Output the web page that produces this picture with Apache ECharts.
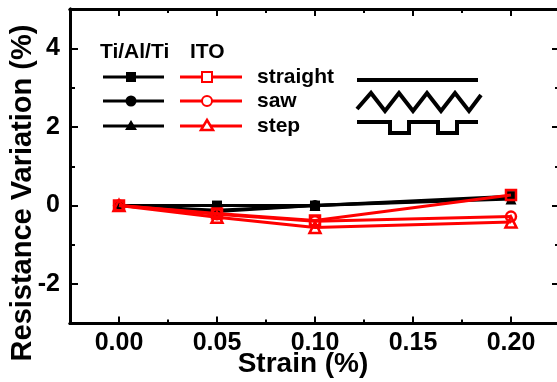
<!DOCTYPE html>
<html>
<head>
<meta charset="utf-8">
<script src="https://cdn.jsdelivr.net/npm/echarts@6/dist/echarts.min.js"></script>
<style>html,body{margin:0;padding:0;background:#fff;overflow:hidden}#c{width:562px;height:382px}</style>
</head>
<body>
<div id="c"></div>
<script>
// ---- data ----
var strain = [0, 0.05, 0.10, 0.20];
var tiStraight = [0, 0.0, 0.0, 0.24];
var tiSaw = [0, -0.12, 0.0, 0.20];
var tiStep = [0, -0.15, 0.0, 0.17];
var itoStraight = [0, -0.20, -0.38, 0.27];
var itoSaw = [0, -0.22, -0.40, -0.28];
var itoStep = [0, -0.30, -0.56, -0.42];
var xMajor = [0, 0.05, 0.10, 0.15, 0.20];
var xMinor = [0.025, 0.075, 0.125, 0.175];
var yMajor = [-2, 0, 2, 4];
var yMinor = [-3, -1, 1, 3];
var legendHeaders = ['Ti/Al/Ti', 'ITO'];
var shapeNames = ['straight', 'saw', 'step'];

var FONT = '"Liberation Sans", Arial, sans-serif';
function pairs(ys) { return strain.map(function (x, i) { return [x, ys[i]]; }); }

function xAx(pos, vals, len, labels) {
  return {
    type: 'value', position: pos, min: -0.025, max: 0.225, interval: 0.025,
    axisLine: { show: true, onZero: false, lineStyle: { color: '#000', width: 3 } },
    axisTick: { show: true, inside: true, length: len, lineStyle: { color: '#000', width: 2 }, customValues: vals },
    axisLabel: { show: labels, customValues: vals, margin: 7, color: '#000', fontFamily: FONT, fontWeight: 'bold', fontSize: 25,
      formatter: function (v) { return v.toFixed(2); } },
    splitLine: { show: false }
  };
}
function yAx(pos, vals, len, labels) {
  return {
    type: 'value', position: pos, min: -3, max: 5, interval: 1,
    axisLine: { show: true, onZero: false, lineStyle: { color: '#000', width: 3 } },
    axisTick: { show: true, inside: true, length: len, lineStyle: { color: '#000', width: 2 }, customValues: vals },
    axisLabel: { show: labels, customValues: vals, margin: 10, color: '#000', fontFamily: FONT, fontWeight: 'bold', fontSize: 25 },
    splitLine: { show: false }
  };
}

function tiSeries(name, ys, sym, size) {
  return { name: name, type: 'line', data: pairs(ys), symbol: sym, symbolSize: size, showSymbol: true,
    lineStyle: { color: '#000', width: 3 }, itemStyle: { color: '#000' }, z: 2, animation: false };
}
function itoSeries(name, ys, sym, size) {
  return { name: name, type: 'line', data: pairs(ys), symbol: sym, symbolSize: size, showSymbol: true,
    lineStyle: { color: '#ff0000', width: 3 }, itemStyle: { color: 'rgba(255,255,255,0)', borderColor: '#ff0000', borderWidth: 2.5 }, z: 3, animation: false };
}

// legend graphics
var rowsY = [77, 101, 126];
var g = [];
g.push({ type: 'text', left: 100, top: 53 - 11, style: { text: legendHeaders[0], font: 'bold 21px ' + FONT, fill: '#000' } });
g.push({ type: 'text', left: 190, top: 53 - 11, style: { text: legendHeaders[1], font: 'bold 21px ' + FONT, fill: '#000' } });
rowsY.forEach(function (y, i) {
  g.push({ type: 'line', shape: { x1: 103, y1: y, x2: 164, y2: y }, style: { stroke: '#000', lineWidth: 3 } });
  g.push({ type: 'line', shape: { x1: 180, y1: y, x2: 242, y2: y }, style: { stroke: '#ff0000', lineWidth: 3 } });
  g.push({ type: 'text', x: 257, y: y, style: { text: shapeNames[i], font: 'bold 21px ' + FONT, fill: '#000', verticalAlign: 'middle', align: 'left' } });
});
// black markers
g.push({ type: 'rect', shape: { x: 126, y: 72, width: 10, height: 10 }, style: { fill: '#000' } });
g.push({ type: 'circle', shape: { cx: 131, cy: 101, r: 5.5 }, style: { fill: '#000' } });
g.push({ type: 'polygon', shape: { points: [[131, 120], [137, 130], [125, 130]] }, style: { fill: '#000' } });
// red markers
g.push({ type: 'rect', shape: { x: 202, y: 72, width: 10, height: 10 }, style: { fill: '#fff', stroke: '#ff0000', lineWidth: 2 } });
g.push({ type: 'circle', shape: { cx: 207, cy: 101, r: 5 }, style: { fill: '#fff', stroke: '#ff0000', lineWidth: 2 } });
g.push({ type: 'polygon', shape: { points: [[207, 120], [213, 130], [201, 130]] }, style: { fill: '#fff', stroke: '#ff0000', lineWidth: 2.5 } });
// pictograms
g.push({ type: 'polyline', shape: { points: [[357, 80], [478, 80]] }, style: { stroke: '#000', lineWidth: 4 } });
g.push({ type: 'polyline', shape: { points: [[357, 109], [371, 93], [385, 111], [399, 93], [413, 111], [427, 93], [441, 111], [455, 93], [469, 111], [481, 95]] }, style: { stroke: '#000', lineWidth: 4, fill: null } });
g.push({ type: 'polyline', shape: { points: [[357, 122], [390, 122], [390, 133], [409, 133], [409, 122], [438, 122], [438, 133], [457, 133], [457, 122], [478, 122]] }, style: { stroke: '#000', lineWidth: 4, fill: null } });
// axis titles
g.push({ type: 'text', x: 303, y: 364, style: { text: 'Strain (%)', font: 'bold 28px ' + FONT, fill: '#000', align: 'center', verticalAlign: 'middle' } });
g.push({ type: 'text', x: 23, y: 193, rotation: Math.PI / 2, style: { text: 'Resistance Variation (%)', font: 'bold 29px ' + FONT, fill: '#000', align: 'center', verticalAlign: 'middle' } });

var chart = echarts.init(document.getElementById('c'), null, { renderer: 'canvas' });
chart.setOption({
  animation: false,
  backgroundColor: '#fff',
  grid: { left: 70, right: 2, top: 9, bottom: 58.5, containLabel: false },
  xAxis: [xAx('bottom', xMajor, 7, true), xAx('bottom', xMinor, 4, false), xAx('top', xMajor, 7, false), xAx('top', xMinor, 4, false)],
  yAxis: [yAx('left', yMajor, 8, true), yAx('left', yMinor, 5, false), yAx('right', yMajor, 8, false), yAx('right', yMinor, 5, false)],
  series: [
    tiSeries('Ti/Al/Ti straight', tiStraight, 'rect', 10),
    tiSeries('Ti/Al/Ti step', tiStep, 'triangle', 11),
    tiSeries('Ti/Al/Ti saw', tiSaw, 'circle', 11),
    itoSeries('ITO straight', itoStraight, 'rect', 10),
    itoSeries('ITO saw', itoSaw, 'circle', 10),
    itoSeries('ITO step', itoStep, 'triangle', 11)
  ],
  graphic: g
});
</script>
</body>
</html>
